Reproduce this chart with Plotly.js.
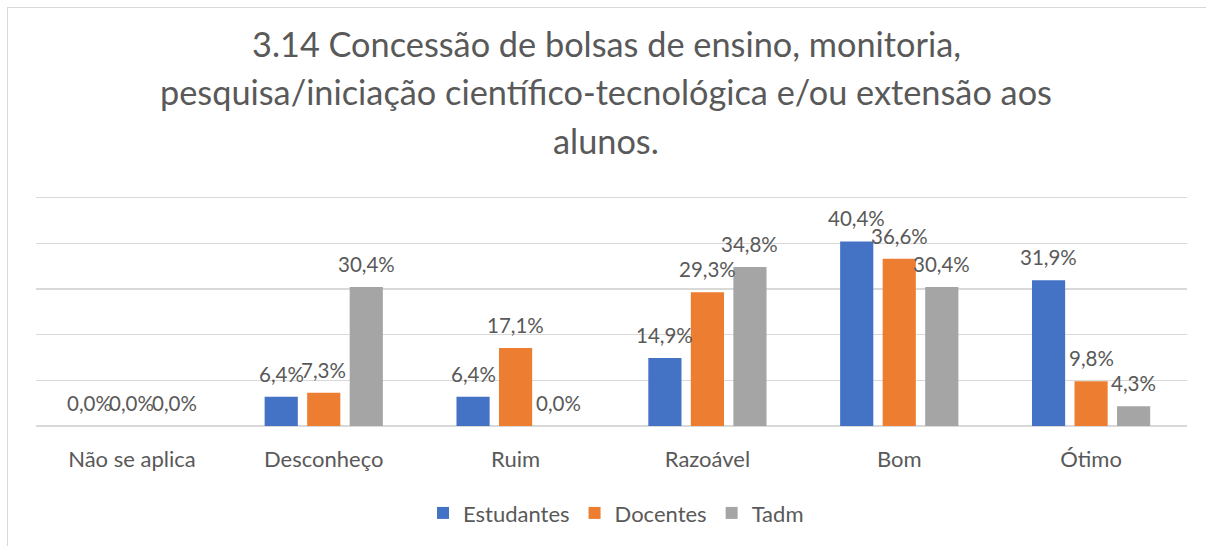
<!DOCTYPE html>
<html>
<head>
<meta charset="utf-8">
<script src="https://cdn.plot.ly/plotly-3.0.1.min.js"></script>
<style>
html,body{margin:0;padding:0;background:#fff;overflow:hidden;}
#wrap{position:relative;width:1206px;height:546px;overflow:hidden;}
#chart{width:1206px;height:546px;}
#frame{position:absolute;left:7px;top:7px;width:1220px;height:560px;
  border-left:1.5px solid #D9D9D9;border-top:1.5px solid #D9D9D9;pointer-events:none;}
</style>
</head>
<body>
<div id="wrap">
<div id="chart"></div>
<div id="frame"></div>
</div>
<script>
const categories = ["Não se aplica", "Desconheço", "Ruim", "Razoável", "Bom", "Ótimo"];
const estudantes = [0.0, 6.4, 6.4, 14.9, 40.4, 31.9];
const docentes   = [0.0, 7.3, 17.1, 29.3, 36.6, 9.8];
const tadm       = [0.0, 30.4, 0.0, 34.8, 30.4, 4.3];
const seriesNames = ["Estudantes", "Docentes", "Tadm"];
const titleLines = [
  "3.14 Concessão de bolsas de ensino, monitoria,",
  "pesquisa/iniciação científico-tecnológica e/ou extensão aos",
  "alunos."
];

const colors = ["#4472C4", "#ED7D31", "#A5A5A5"];
const textColor = "#595959";
const FONT = "Lato, 'Open Sans', sans-serif";
const fmt = v => v.toFixed(1).replace('.', ',') + '%';
const allSeries = [estudantes, docentes, tadm];

const BARGAP = 0.335, BARGROUPGAP = 0.22;

const traces = allSeries.map((vals, i) => ({
  type: 'bar',
  name: seriesNames[i],
  x: categories,
  y: vals,
  marker: {color: colors[i]},
  hoverinfo: 'none'
}));

// pixel helpers for paper coordinates
const L = 36, R = 1187, T = 198, B = 428;
const px = x => (x - L) / (R - L);
const py = y => (B - y) / (B - T);
const YMAX = 51;
const TOP = B - (B - T) * YMAX / 50;

const titleY = [50, 98, 146];
const annotations = titleLines.map((t, i) => ({
  text: t,
  xref: 'paper', yref: 'paper',
  x: px(606), y: py(titleY[i]),
  xanchor: 'center', yanchor: 'middle',
  showarrow: false,
  font: {family: FONT, size: 34.3, color: textColor}
}));

// data labels above bars (positioned through the axes, offset per group slot)
const slot = (R - L) / categories.length * (1 - BARGAP) / allSeries.length;
allSeries.forEach((vals, si) => {
  vals.forEach((v, ci) => {
    annotations.push({
      text: fmt(v),
      xref: 'x', yref: 'y',
      x: categories[ci], y: v,
      xshift: (si - (allSeries.length - 1) / 2) * slot,
      yshift: 23,
      xanchor: 'center', yanchor: 'middle',
      showarrow: false,
      font: {family: FONT, size: 20.5, color: textColor}
    });
  });
});

const layout = {
  width: 1206, height: 546,
  margin: {l: L, r: 1206 - R, t: TOP, b: 546 - B, pad: 0},
  paper_bgcolor: '#fff', plot_bgcolor: '#fff',
  barmode: 'group',
  bargap: BARGAP,
  bargroupgap: BARGROUPGAP,
  showlegend: true,
  legend: {
    orientation: 'h',
    x: px(616), xanchor: 'center',
    y: py(514), yanchor: 'middle',
    font: {family: FONT, size: 22, color: textColor},
    itemwidth: 30
  },
  xaxis: {
    type: 'category',
    tickfont: {family: FONT, size: 22, color: textColor},
    ticks: '',
    showline: false,
    showgrid: false,
    ticklabelstandoff: 18
  },
  yaxis: {
    range: [0, YMAX],
    tickvals: [10, 20, 30, 40, 50],
    showticklabels: false,
    showgrid: true,
    gridcolor: '#D9D9D9',
    gridwidth: 1.5,
    zeroline: true,
    zerolinecolor: '#D9D9D9',
    zerolinewidth: 1.5,
    showline: false,
    ticks: ''
  },
  annotations: annotations
};

Plotly.newPlot('chart', traces, layout, {staticPlot: true, displayModeBar: false});
</script>
</body>
</html>
